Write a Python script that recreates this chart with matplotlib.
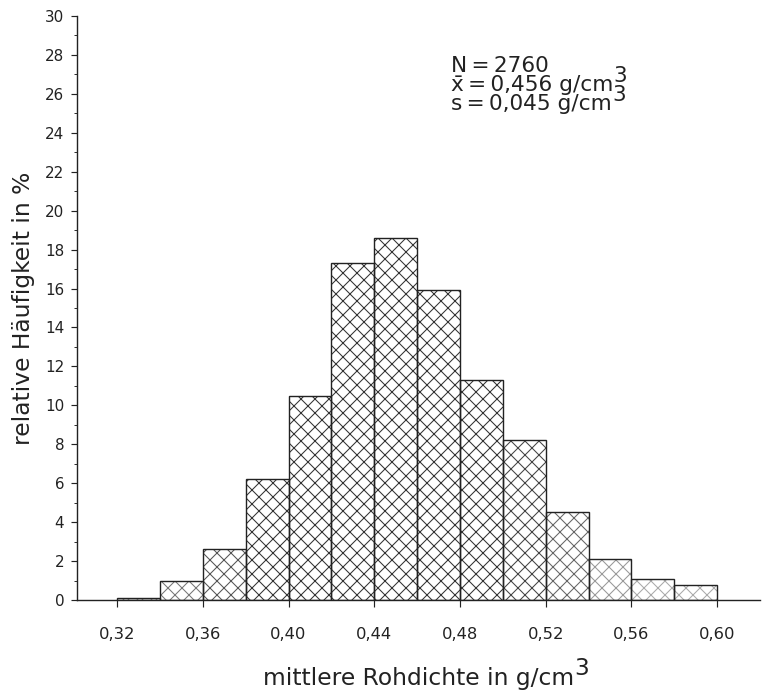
import numpy as np
import matplotlib
matplotlib.use("Agg")
import matplotlib.pyplot as plt
from matplotlib.ticker import MultipleLocator, FuncFormatter

# Klassen der mittleren Rohdichte (g/cm3), Klassenbreite 0,02
bin_left = [0.32, 0.34, 0.36, 0.38, 0.40, 0.42, 0.44, 0.46, 0.48, 0.50, 0.52, 0.54, 0.56, 0.58]
bin_width = 0.02
# relative Haeufigkeit in %
freq = [0.1, 1.0, 2.6, 6.2, 10.5, 17.3, 18.6, 15.9, 11.3, 8.2, 4.5, 2.1, 1.1, 0.75]

x_ticks = [0.32, 0.36, 0.40, 0.44, 0.48, 0.52, 0.56, 0.60]
stats = ["N\u2009=\u20092760", "x\u0304\u2009=\u20090,456 g/cm", "s\u2009=\u20090,045 g/cm"]

# Schraffurfarbe je Klasse: Randklassen heller
hatch_col = ['#888888', '#777777', '#555555', '#333333', '#333333', '#333333', '#333333',
             '#333333', '#333333', '#444444', '#666666', '#999999', '#aaaaaa', '#aaaaaa']

plt.rcParams['font.family'] = 'DejaVu Sans'
plt.rcParams['hatch.linewidth'] = 0.9
ink = '#222222'

dpi = 84
fig = plt.figure(figsize=(762 / dpi, 697 / dpi), dpi=dpi)
ax = fig.add_axes([77 / 762, 97 / 697, 683 / 762, 584 / 697])

# Schraffur und Umriss getrennt zeichnen
ax.bar(bin_left, freq, width=bin_width, align='edge', color='white',
       edgecolor=hatch_col, linewidth=0, hatch='xx')
ax.bar(bin_left, freq, width=bin_width, align='edge', fill=False,
       edgecolor=ink, linewidth=1.2)

ax.set_xlim(0.3013, 0.62)
ax.set_ylim(0, 30)

ax.spines['top'].set_visible(False)
ax.spines['right'].set_visible(False)
for s in ['left', 'bottom']:
    ax.spines[s].set_linewidth(1.2)
    ax.spines[s].set_color(ink)

ax.set_xticks(x_ticks)
ax.xaxis.set_major_formatter(FuncFormatter(lambda v, p: f"{v:.2f}".replace('.', ',')))
ax.yaxis.set_major_locator(MultipleLocator(2))
ax.yaxis.set_minor_locator(MultipleLocator(1))
ax.tick_params(axis='x', direction='out', length=6, width=1, colors=ink, labelsize=14, pad=17)
ax.tick_params(axis='y', which='major', direction='out', length=5, width=1, colors=ink,
               labelsize=13, pad=6)
ax.tick_params(axis='y', which='minor', direction='out', length=3, width=0.8, colors=ink)

ax.set_ylabel("relative Häufigkeit in %", fontsize=20, color=ink, labelpad=8.5)
xl = ax.set_xlabel("mittlere Rohdichte in g/cm", fontsize=20, color=ink, labelpad=22)
ax.annotate("3", xy=(1, 0.45), xycoords=xl, fontsize=20, color=ink,
            ha='left', va='bottom')

# Kennwerte oben rechts
y0 = 0.915
for i, line in enumerate(stats):
    t = ax.text(0.548, y0 - i * 0.0325, line, transform=ax.transAxes,
                fontsize=18.5, color=ink, ha='left', va='center', linespacing=1.0)
    if i > 0:
        ax.annotate("3", xy=(1, 0.45), xycoords=t, fontsize=18.5, color=ink,
                    ha='left', va='bottom')

fig.savefig("out.png", dpi=dpi)
